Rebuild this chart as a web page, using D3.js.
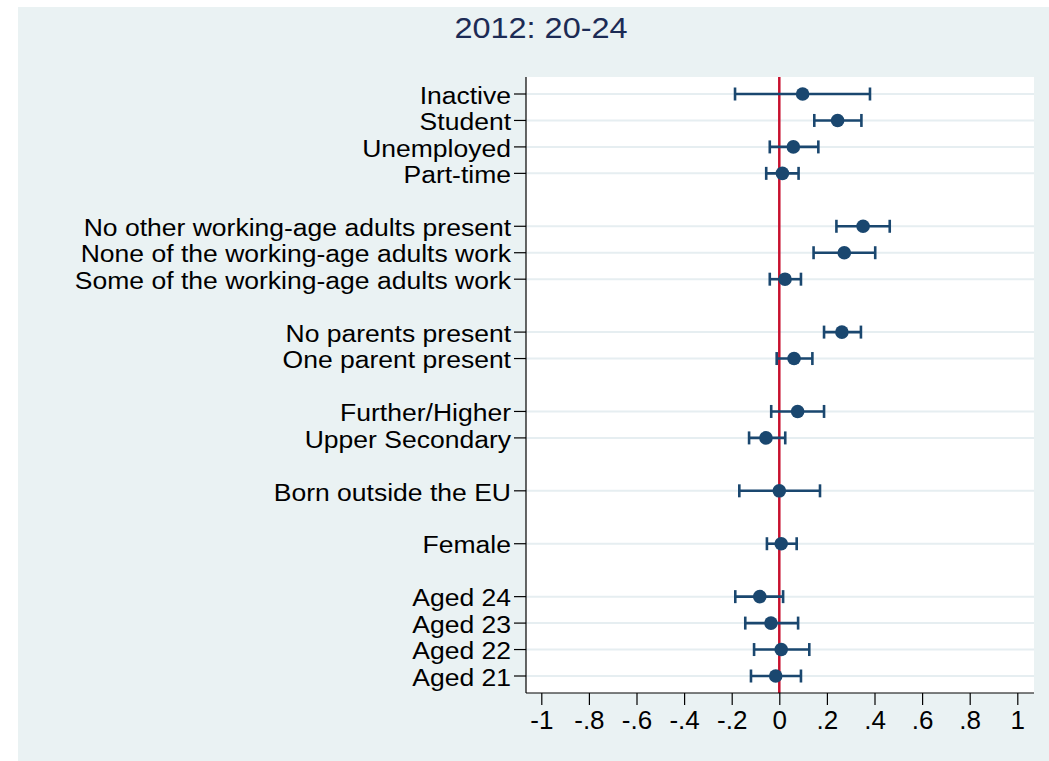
<!DOCTYPE html>
<html>
<head>
<meta charset="utf-8">
<script src="https://cdn.jsdelivr.net/npm/d3@7"></script>
<style>
  html, body { margin: 0; padding: 0; background: #ffffff; }
  svg { display: block; }
  text { font-family: "Liberation Sans", Arial, sans-serif; }
</style>
</head>
<body>
<svg id="chart" width="1049" height="761"></svg>
<script>
// Coefficient labels, top to bottom
const labels = [
  "Inactive", "Student", "Unemployed", "Part-time",
  "No other working-age adults present", "None of the working-age adults work", "Some of the working-age adults work",
  "No parents present", "One parent present",
  "Further/Higher", "Upper Secondary",
  "Born outside the EU",
  "Female",
  "Aged 24", "Aged 23", "Aged 22", "Aged 21"
];
// Number of coefficients in each block (blocks are separated by a blank row)
const groupSizes = [4, 3, 2, 2, 1, 1, 4];

// Point estimates and 95% confidence bounds
const coef   = [0.098, 0.245, 0.059, 0.013, 0.352, 0.273, 0.024, 0.263, 0.062, 0.077, -0.056, 0.000, 0.008, -0.082, -0.035, 0.008, -0.015];
const ciLow  = [-0.186, 0.147, -0.040, -0.055, 0.240, 0.144, -0.040, 0.188, -0.011, -0.034, -0.127, -0.168, -0.052, -0.185, -0.143, -0.106, -0.119];
const ciHigh = [0.381, 0.345, 0.164, 0.081, 0.464, 0.403, 0.091, 0.343, 0.139, 0.188, 0.025, 0.171, 0.073, 0.016, 0.079, 0.126, 0.091];

const xTicks = [-1, -0.8, -0.6, -0.4, -0.2, 0, 0.2, 0.4, 0.6, 0.8, 1];
const title = "2012: 20-24";

// Row slot for every coefficient, leaving one empty slot between blocks
const slots = [];
let s = 0;
groupSizes.forEach((n, gi) => {
  for (let i = 0; i < n; i++) slots.push(s++);
  if (gi < groupSizes.length - 1) s++;
});
const nSlots = s; // last slot index + 1

const W = 1049, H = 761;
const plot = { left: 526, right: 1034, top: 77, bottom: 693 };

const NAVY = "#1a476f";
const RED = "#c8102e";
const BG = "#eaf2f3";

const svg = d3.select("#chart");

// Outer graph region
svg.append("rect").attr("x", 18).attr("y", 7).attr("width", W - 18).attr("height", H - 7).attr("fill", BG);
// Plot region
svg.append("rect").attr("x", plot.left).attr("y", plot.top)
  .attr("width", plot.right - plot.left).attr("height", plot.bottom - plot.top).attr("fill", "#ffffff");

const x = d3.scaleLinear().domain([-1, 1]).range([541.3, 1017.3]);
const y = d3.scaleLinear().domain([0, nSlots - 1]).range([94, 676]);

// Horizontal gridlines at every coefficient row
svg.append("g").selectAll("line").data(slots).join("line")
  .attr("x1", plot.left).attr("x2", plot.right)
  .attr("y1", d => y(d)).attr("y2", d => y(d))
  .attr("stroke", "#e6eef1").attr("stroke-width", 2);

// Reference line at zero
svg.append("line")
  .attr("x1", x(0)).attr("x2", x(0)).attr("y1", plot.top).attr("y2", plot.bottom)
  .attr("stroke", RED).attr("stroke-width", 2.5);

// Confidence intervals with end caps
const ci = svg.append("g").attr("stroke", NAVY).attr("stroke-width", 2.6).attr("fill", "none");
labels.forEach((lab, i) => {
  const yy = y(slots[i]);
  ci.append("line").attr("x1", x(ciLow[i])).attr("x2", x(ciHigh[i])).attr("y1", yy).attr("y2", yy);
  ci.append("line").attr("x1", x(ciLow[i])).attr("x2", x(ciLow[i])).attr("y1", yy - 6.5).attr("y2", yy + 6.5);
  ci.append("line").attr("x1", x(ciHigh[i])).attr("x2", x(ciHigh[i])).attr("y1", yy - 6.5).attr("y2", yy + 6.5);
});

// Point estimates
svg.append("g").selectAll("circle").data(labels).join("circle")
  .attr("cx", (d, i) => x(coef[i])).attr("cy", (d, i) => y(slots[i]))
  .attr("r", 6.8).attr("fill", NAVY);

// Y axis: line, ticks and labels
svg.append("line").attr("x1", plot.left).attr("x2", plot.left).attr("y1", plot.top).attr("y2", plot.bottom)
  .attr("stroke", "#000").attr("stroke-width", 1.2);
const yAxis = svg.append("g");
labels.forEach((lab, i) => {
  const yy = y(slots[i]);
  yAxis.append("line").attr("x1", plot.left - 12).attr("x2", plot.left).attr("y1", yy).attr("y2", yy)
    .attr("stroke", "#000").attr("stroke-width", 1.2);
  yAxis.append("text")
    .attr("transform", `translate(${plot.left - 15},${yy}) scale(1.143,1)`)
    .attr("text-anchor", "end").attr("dy", "0.42em")
    .attr("font-size", 23.2).attr("fill", "#000")
    .text(lab);
});

// X axis
const fmt = v => v === 0 ? "0" : (v < 0 ? "-" : "") + String(Math.abs(v)).replace(/^0\./, ".");
const xAxis = d3.axisBottom(x).tickValues(xTicks).tickFormat(fmt).tickSize(12).tickPadding(6);
const gx = svg.append("g").attr("transform", `translate(0,${plot.bottom})`).call(xAxis);
gx.select(".domain").attr("d", `M${plot.left},0H${plot.right}`).attr("stroke", "#000").attr("stroke-width", 1.2);
gx.selectAll(".tick line").attr("stroke", "#000").attr("stroke-width", 1.2);
gx.selectAll(".tick text").attr("font-size", 26).attr("fill", "#000")
  .attr("font-family", "'Liberation Sans', Arial, sans-serif");

// Title
svg.append("text")
  .attr("transform", "translate(541,38) scale(1.12,1)")
  .attr("text-anchor", "middle")
  .attr("font-size", 29).attr("fill", "#1c2b55")
  .text(title);
</script>
</body>
</html>
